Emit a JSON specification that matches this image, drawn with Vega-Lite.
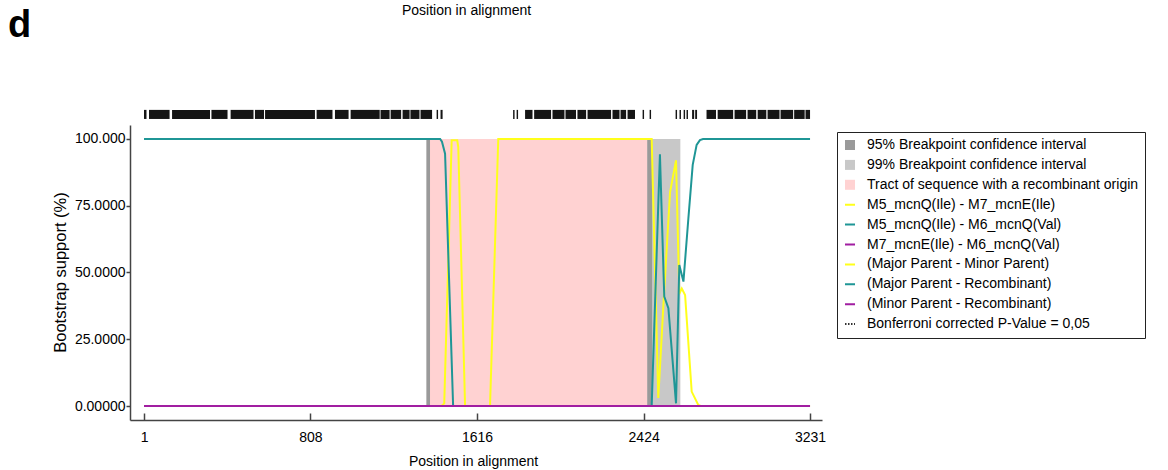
{
  "$schema": "https://vega.github.io/schema/vega-lite/v6.json",
  "autosize": "none",
  "width": 692,
  "height": 295,
  "padding": {"left": 130, "top": 125, "right": 346, "bottom": 50},
  "background": "white",
  "config": {
    "view": {"stroke": null},
    "font": "Liberation Sans",
    "axis": {"labelFont": "Liberation Sans", "titleFont": "Liberation Sans", "labelColor": "#000", "titleColor": "#000", "grid": false}
  },
  "title": {"text": "d", "anchor": "start", "frame": "group", "fontSize": 38, "fontWeight": "bold", "font": "Liberation Sans", "color": "#000", "dx": -122, "dy": 42, "offset": 0},
  "resolve": {"axis": {"x": "independent", "y": "independent"}},
  "datasets": {
    "bands": [
      {"band": "99% Breakpoint confidence interval", "start": 1369, "end": 1398},
      {"band": "99% Breakpoint confidence interval", "start": 2441, "end": 2602},
      {"band": "95% Breakpoint confidence interval", "start": 1372, "end": 1388},
      {"band": "95% Breakpoint confidence interval", "start": 2441, "end": 2465},
      {"band": "Tract of sequence with a recombinant origin", "start": 1388, "end": 2441}
    ],
    "strip": [
      {"start": 1, "end": 13}, {"start": 25, "end": 125}, {"start": 137, "end": 321}, {"start": 328, "end": 406},
      {"start": 421, "end": 532}, {"start": 539, "end": 583}, {"start": 588, "end": 830}, {"start": 838, "end": 915},
      {"start": 927, "end": 993}, {"start": 1003, "end": 1144}, {"start": 1148, "end": 1192}, {"start": 1197, "end": 1248},
      {"start": 1255, "end": 1289}, {"start": 1293, "end": 1337}, {"start": 1342, "end": 1398}, {"start": 1420, "end": 1427},
      {"start": 1439, "end": 1449}, {"start": 1791, "end": 1798}, {"start": 1808, "end": 1815}, {"start": 1849, "end": 1885},
      {"start": 1893, "end": 1975}, {"start": 1982, "end": 2040}, {"start": 2045, "end": 2096}, {"start": 2103, "end": 2145},
      {"start": 2152, "end": 2266}, {"start": 2273, "end": 2307}, {"start": 2312, "end": 2339}, {"start": 2346, "end": 2382},
      {"start": 2419, "end": 2426}, {"start": 2453, "end": 2460}, {"start": 2579, "end": 2586}, {"start": 2598, "end": 2605},
      {"start": 2618, "end": 2625}, {"start": 2632, "end": 2639}, {"start": 2659, "end": 2669}, {"start": 2674, "end": 2683},
      {"start": 2729, "end": 2775}, {"start": 2783, "end": 2858}, {"start": 2865, "end": 2921}, {"start": 2928, "end": 2970},
      {"start": 2977, "end": 3019}, {"start": 3025, "end": 3083}, {"start": 3088, "end": 3149}, {"start": 3154, "end": 3205},
      {"start": 3209, "end": 3231}
    ],
    "curves": [
      {"series": "M5_mcnQ(Ile) - M7_mcnE(Ile)", "pos": 1, "value": 0},
      {"series": "M5_mcnQ(Ile) - M7_mcnE(Ile)", "pos": 1444, "value": 0},
      {"series": "M5_mcnQ(Ile) - M7_mcnE(Ile)", "pos": 1457, "value": 1},
      {"series": "M5_mcnQ(Ile) - M7_mcnE(Ile)", "pos": 1493, "value": 99.5},
      {"series": "M5_mcnQ(Ile) - M7_mcnE(Ile)", "pos": 1520, "value": 99.5},
      {"series": "M5_mcnQ(Ile) - M7_mcnE(Ile)", "pos": 1525, "value": 97},
      {"series": "M5_mcnQ(Ile) - M7_mcnE(Ile)", "pos": 1558, "value": 0},
      {"series": "M5_mcnQ(Ile) - M7_mcnE(Ile)", "pos": 1679, "value": 0},
      {"series": "M5_mcnQ(Ile) - M7_mcnE(Ile)", "pos": 1719, "value": 100},
      {"series": "M5_mcnQ(Ile) - M7_mcnE(Ile)", "pos": 2463, "value": 100},
      {"series": "M5_mcnQ(Ile) - M7_mcnE(Ile)", "pos": 2495, "value": 3},
      {"series": "M5_mcnQ(Ile) - M7_mcnE(Ile)", "pos": 2520, "value": 38},
      {"series": "M5_mcnQ(Ile) - M7_mcnE(Ile)", "pos": 2552, "value": 80},
      {"series": "M5_mcnQ(Ile) - M7_mcnE(Ile)", "pos": 2581, "value": 92},
      {"series": "M5_mcnQ(Ile) - M7_mcnE(Ile)", "pos": 2597, "value": 42},
      {"series": "M5_mcnQ(Ile) - M7_mcnE(Ile)", "pos": 2609, "value": 44},
      {"series": "M5_mcnQ(Ile) - M7_mcnE(Ile)", "pos": 2625, "value": 41.6},
      {"series": "M5_mcnQ(Ile) - M7_mcnE(Ile)", "pos": 2657, "value": 5.4},
      {"series": "M5_mcnQ(Ile) - M7_mcnE(Ile)", "pos": 2689, "value": 0.4},
      {"series": "M5_mcnQ(Ile) - M7_mcnE(Ile)", "pos": 2700, "value": 0},
      {"series": "M5_mcnQ(Ile) - M7_mcnE(Ile)", "pos": 3231, "value": 0},
      {"series": "M5_mcnQ(Ile) - M6_mcnQ(Val)", "pos": 1, "value": 100},
      {"series": "M5_mcnQ(Ile) - M6_mcnQ(Val)", "pos": 1437, "value": 100},
      {"series": "M5_mcnQ(Ile) - M6_mcnQ(Val)", "pos": 1446, "value": 99},
      {"series": "M5_mcnQ(Ile) - M6_mcnQ(Val)", "pos": 1461, "value": 94.5},
      {"series": "M5_mcnQ(Ile) - M6_mcnQ(Val)", "pos": 1500, "value": 0},
      {"series": "M5_mcnQ(Ile) - M6_mcnQ(Val)", "pos": 2463, "value": 0},
      {"series": "M5_mcnQ(Ile) - M6_mcnQ(Val)", "pos": 2503, "value": 94.3},
      {"series": "M5_mcnQ(Ile) - M6_mcnQ(Val)", "pos": 2524, "value": 41},
      {"series": "M5_mcnQ(Ile) - M6_mcnQ(Val)", "pos": 2544, "value": 36.6},
      {"series": "M5_mcnQ(Ile) - M6_mcnQ(Val)", "pos": 2581, "value": 1},
      {"series": "M5_mcnQ(Ile) - M6_mcnQ(Val)", "pos": 2597, "value": 52.8},
      {"series": "M5_mcnQ(Ile) - M6_mcnQ(Val)", "pos": 2617, "value": 46.6},
      {"series": "M5_mcnQ(Ile) - M6_mcnQ(Val)", "pos": 2641, "value": 70.3},
      {"series": "M5_mcnQ(Ile) - M6_mcnQ(Val)", "pos": 2662, "value": 90.3},
      {"series": "M5_mcnQ(Ile) - M6_mcnQ(Val)", "pos": 2681, "value": 97.8},
      {"series": "M5_mcnQ(Ile) - M6_mcnQ(Val)", "pos": 2697, "value": 99.6},
      {"series": "M5_mcnQ(Ile) - M6_mcnQ(Val)", "pos": 2712, "value": 100},
      {"series": "M5_mcnQ(Ile) - M6_mcnQ(Val)", "pos": 3231, "value": 100},
      {"series": "M7_mcnE(Ile) - M6_mcnQ(Val)", "pos": 1, "value": 0},
      {"series": "M7_mcnE(Ile) - M6_mcnQ(Val)", "pos": 3231, "value": 0}
    ]
  },
  "layer": [
    {
      "data": {"name": "bands"},
      "mark": {"type": "rect"},
      "encoding": {
        "x": {"field": "start", "type": "quantitative", "scale": {"domain": [-67, 3289], "nice": false, "zero": false}, "axis": null},
        "x2": {"field": "end"},
        "y": {"datum": 0, "type": "quantitative", "scale": {"domain": [-5.24, 105.24], "nice": false, "zero": false}, "axis": null},
        "y2": {"datum": 100},
        "color": {
          "field": "band", "type": "nominal",
          "scale": {
            "domain": ["95% Breakpoint confidence interval", "99% Breakpoint confidence interval", "Tract of sequence with a recombinant origin", "M5_mcnQ(Ile) - M7_mcnE(Ile)", "M5_mcnQ(Ile) - M6_mcnQ(Val)", "M7_mcnE(Ile) - M6_mcnQ(Val)", "(Major Parent - Minor Parent)", "(Major Parent - Recombinant)", "(Minor Parent - Recombinant)", "Bonferroni corrected P-Value = 0,05"],
            "range": ["#9a9a9a", "#c8c8c8", "#ffd2d2", "#ffff1a", "#1f9696", "#a11ea1", "#ffff1a", "#1f9696", "#a11ea1", "#333333"]
          },
          "legend": {
            "title": null,
            "orient": "none",
            "legendX": 707,
            "legendY": 7,
            "strokeColor": "#222",
            "fillColor": "white",
            "padding": 6,
            "labelFont": "Liberation Sans",
            "labelFontSize": 14,
            "labelColor": "#000",
            "labelLimit": 400,
            "labelOffset": 10,
            "symbolSize": 100,
            "rowPadding": 5.9,
            "symbolType": "square",
            "encode": {
              "symbols": {
                "update": {
                  "shape": {"signal": "indexof(['95% Breakpoint confidence interval','99% Breakpoint confidence interval','Tract of sequence with a recombinant origin'], datum.value) >= 0 ? 'square' : 'stroke'"},
                  "fill": {"signal": "indexof(['95% Breakpoint confidence interval','99% Breakpoint confidence interval','Tract of sequence with a recombinant origin'], datum.value) >= 0 ? scale('color', datum.value) : 'transparent'"},
                  "stroke": {"signal": "scale('color', datum.value)"},
                  "strokeWidth": {"signal": "indexof(['95% Breakpoint confidence interval','99% Breakpoint confidence interval','Tract of sequence with a recombinant origin'], datum.value) >= 0 ? 0 : 2"},
                  "strokeDash": {"signal": "datum.value === 'Bonferroni corrected P-Value = 0,05' ? [1.5, 1.5] : [1, 0]"},
                  "opacity": {"value": 1}
                }
              }
            }
          }
        }
      }
    },
    {
      "mark": {"type": "rule", "color": "#333333", "strokeWidth": 1, "strokeDash": [1.5, 1.5]},
      "encoding": {
        "y": {"datum": 70.7, "type": "quantitative", "scale": {"domain": [-5.24, 105.24], "nice": false, "zero": false}, "axis": null}
      }
    },
    {
      "data": {"name": "curves"},
      "mark": {"type": "line", "strokeWidth": 2},
      "encoding": {
        "x": {
          "field": "pos", "type": "quantitative",
          "scale": {"domain": [-67, 3289], "nice": false, "zero": false},
          "axis": {
            "orient": "bottom", "values": [1, 808, 1616, 2424, 3231], "format": "d", "tickSize": -7, "labelPadding": 17,
            "domainColor": "#444", "tickColor": "#444", "domainWidth": 1.5, "tickWidth": 1.5,
            "labelFontSize": 14, "labelFlush": false, "labelOverlap": false,
            "title": "Position in alignment", "titleFontSize": 14, "titleFontWeight": "normal",
            "titleX": 343, "titleY": 41, "titleBaseline": "middle", "titleAlign": "center"
          }
        },
        "y": {
          "field": "value", "type": "quantitative",
          "scale": {"domain": [-5.24, 105.24], "nice": false, "zero": false},
          "axis": {
            "values": [0, 25, 50, 75, 100], "tickSize": 4, "labelPadding": 1,
            "labelExpr": "datum.value === 100 ? '100.000' : datum.value === 0 ? '0.00000' : format(datum.value, '.4f')",
            "domainColor": "#444", "tickColor": "#444", "domainWidth": 1.5, "tickWidth": 1.5,
            "labelFontSize": 14,
            "title": "Bootstrap support (%)", "titleFontSize": 16.5, "titleFontWeight": "normal",
            "titleX": -70, "titleY": 147, "titleBaseline": "middle", "titleAlign": "center", "titleAngle": -90
          }
        },
        "color": {
          "field": "series", "type": "nominal",
          "scale": {
            "domain": ["95% Breakpoint confidence interval", "99% Breakpoint confidence interval", "Tract of sequence with a recombinant origin", "M5_mcnQ(Ile) - M7_mcnE(Ile)", "M5_mcnQ(Ile) - M6_mcnQ(Val)", "M7_mcnE(Ile) - M6_mcnQ(Val)", "(Major Parent - Minor Parent)", "(Major Parent - Recombinant)", "(Minor Parent - Recombinant)", "Bonferroni corrected P-Value = 0,05"],
            "range": ["#9a9a9a", "#c8c8c8", "#ffd2d2", "#ffff1a", "#1f9696", "#a11ea1", "#ffff1a", "#1f9696", "#a11ea1", "#333333"]
          },
          "legend": null
        }
      }
    },
    {
      "data": {"name": "strip"},
      "mark": {"type": "rect", "color": "#151515"},
      "encoding": {
        "x": {
          "field": "start", "type": "quantitative",
          "scale": {"domain": [-67, 3289], "nice": false, "zero": false},
          "axis": {"orient": "top", "domain": false, "ticks": false, "labels": false, "title": "Position in alignment", "titleFontSize": 14, "titleFontWeight": "normal", "titleX": 336, "titleY": -115, "titleBaseline": "middle", "titleAlign": "center"}
        },
        "x2": {"field": "end"},
        "y": {"datum": 107.5, "type": "quantitative", "scale": {"domain": [-5.24, 105.24], "nice": false, "zero": false}, "axis": null},
        "y2": {"datum": 110.9}
      }
    }
  ]
}
